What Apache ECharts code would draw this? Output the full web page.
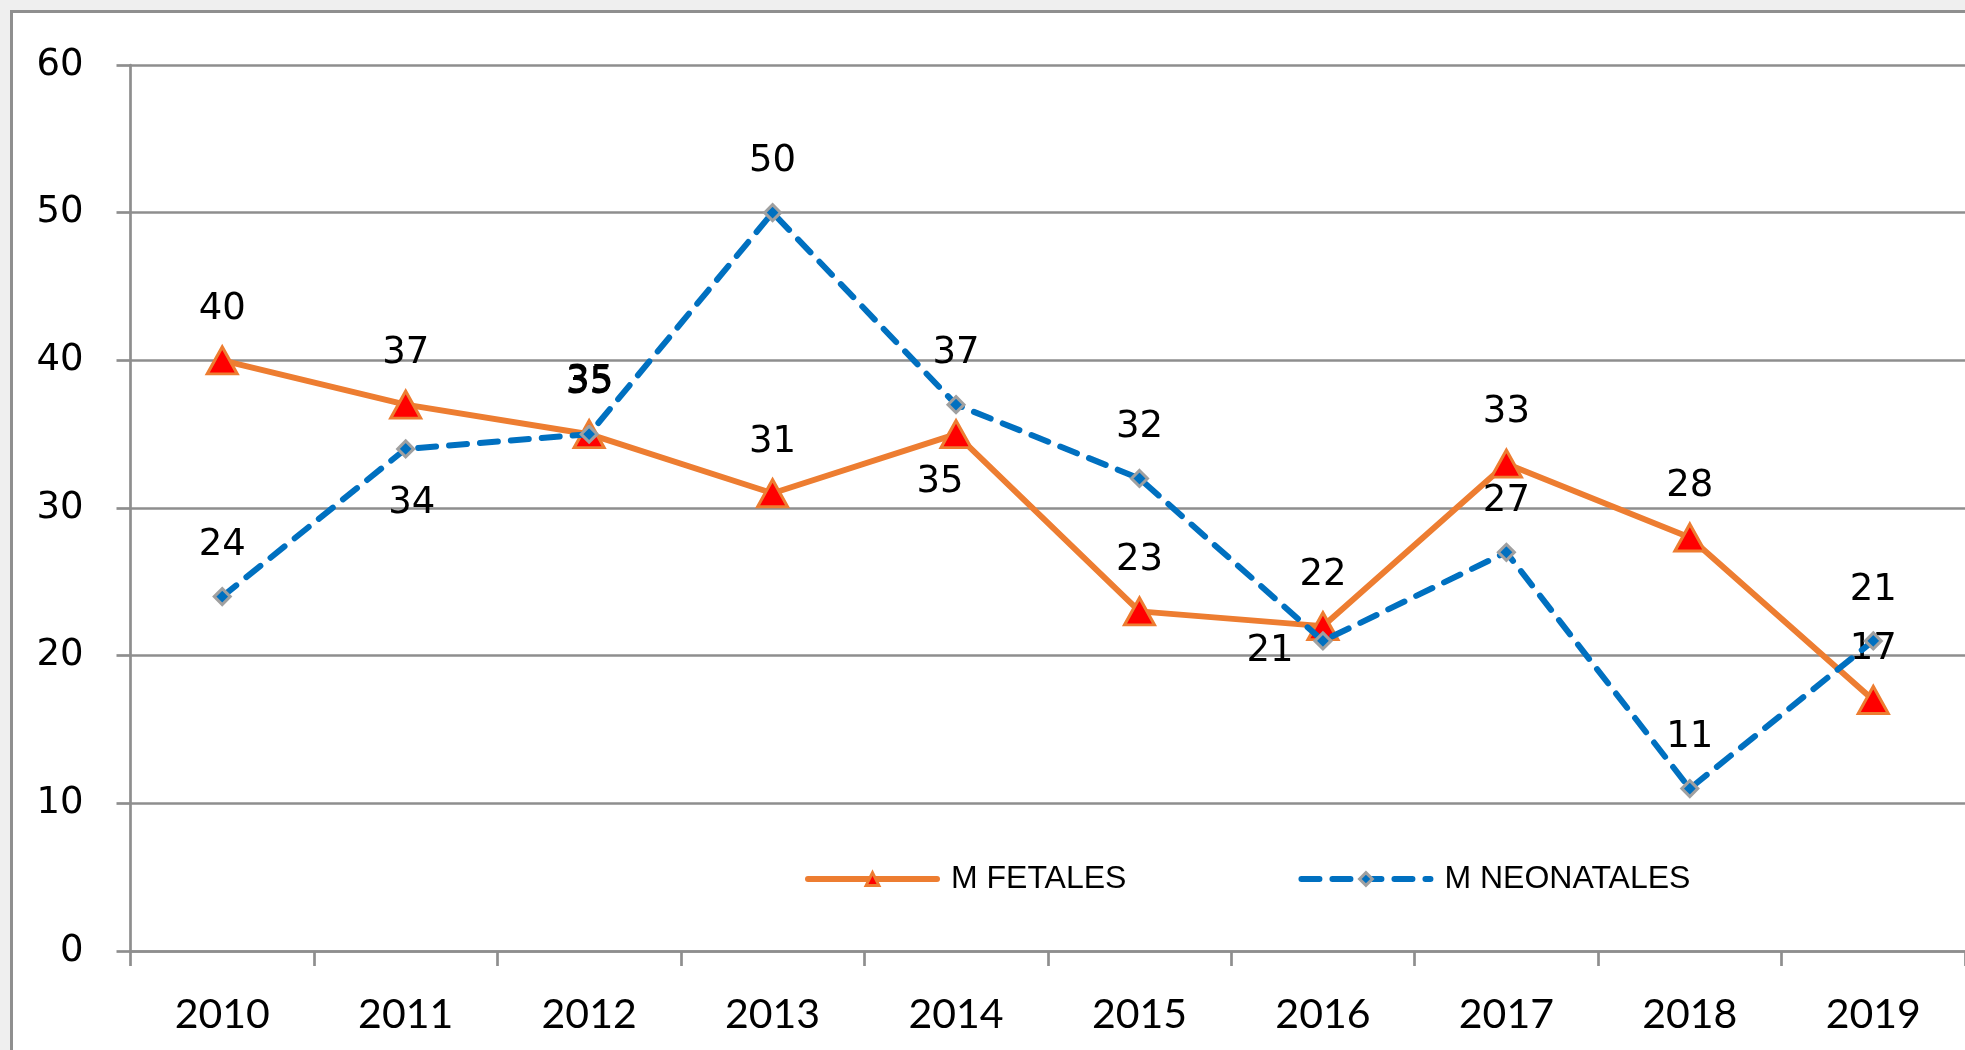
<!DOCTYPE html>
<html>
<head>
<meta charset="utf-8">
<script src="https://cdn.jsdelivr.net/npm/echarts@6/dist/echarts.min.js"></script>
<style>
  html, body { margin: 0; padding: 0; width: 1965px; height: 1050px; overflow: hidden; background: #efefef; }
  #frame { position: absolute; left: 10px; top: 10px; width: 1980px; height: 1060px; background: #ffffff; border: 3px solid #8f8f8f; }
  #chart { position: absolute; left: 0; top: 0; width: 1965px; height: 1050px; }
</style>
</head>
<body>
<div id="frame"></div>
<div id="chart"></div>
<script>
const categories = ['2010', '2011', '2012', '2013', '2014', '2015', '2016', '2017', '2018', '2019'];
const fetales = [40, 37, 35, 31, 35, 23, 22, 33, 28, 17];
const neonatales = [24, 34, 35, 50, 37, 32, 21, 27, 11, 21];
const seriesNames = ['M FETALES', 'M NEONATALES'];
const yTicks = { min: 0, max: 60, interval: 10 };

// label placement overrides (style only)
const defaultOffset = [0, -51];
const fetalOffsets = { 4: [-16, 48] };
const neoOffsets = { 1: [6, 54], 2: [1, -53], 6: [-53, 10] };

function buildData(values, offsets) {
  return values.map((v, i) => {
    const o = offsets[i] || defaultOffset;
    return { value: v, label: { offset: o } };
  });
}

const labelStyle = {
  show: true,
  position: 'inside',
  color: '#000',
  fontFamily: 'DejaVu Sans',
  fontSize: 37
};

const orangeLine = { color: '#ED7D31', width: 6, cap: 'round' };
const blueLine = { color: '#0070C0', width: 6, type: [18, 13], cap: 'round' };
const triStyle = { color: '#FF0000', borderColor: '#ED7D31', borderWidth: 3 };
const diaStyle = { color: '#0070C0', borderColor: '#A0A0A0', borderWidth: 3 };

const chart = echarts.init(document.getElementById('chart'), null, { renderer: 'canvas' });
chart.setOption({
  backgroundColor: 'transparent',
  animation: false,
  grid: { left: 130.5, top: 65, right: -18.5, bottom: 99, containLabel: false },
  legend: {
    data: [
      { name: seriesNames[0], lineStyle: orangeLine, itemStyle: triStyle },
      { name: seriesNames[1], lineStyle: blueLine, itemStyle: diaStyle }
    ],
    left: 800,
    top: 858,
    itemWidth: 129,
    itemHeight: 16,
    itemGap: 172,
    textStyle: { fontFamily: 'Liberation Sans', fontSize: 32, color: '#000', padding: [0, 0, 0, 9] }
  },
  xAxis: {
    type: 'category',
    data: categories,
    boundaryGap: true,
    axisLine: { lineStyle: { color: '#8e8e8e', width: 2.7 } },
    axisTick: { show: true, length: 15, alignWithLabel: false, lineStyle: { color: '#8e8e8e', width: 2.7 } },
    axisLabel: { fontFamily: 'Lato', fontSize: 41, color: '#000', margin: 43 },
    splitLine: { show: false }
  },
  yAxis: {
    type: 'value',
    min: yTicks.min,
    max: yTicks.max,
    interval: yTicks.interval,
    axisLine: { show: true, lineStyle: { color: '#8e8e8e', width: 2.7 } },
    axisTick: { show: true, length: 14, lineStyle: { color: '#8e8e8e', width: 2.7 } },
    axisLabel: { fontFamily: 'DejaVu Sans', fontSize: 37, color: '#000', margin: 47 },
    splitLine: { show: true, lineStyle: { color: '#8e8e8e', width: 2.7 } }
  },
  series: [
    {
      name: seriesNames[0],
      type: 'line',
      data: buildData(fetales, fetalOffsets),
      symbol: 'triangle',
      symbolSize: [30, 27],
      lineStyle: orangeLine,
      itemStyle: triStyle,
      label: labelStyle,
      z: 2
    },
    {
      name: seriesNames[1],
      type: 'line',
      data: buildData(neonatales, neoOffsets),
      symbol: 'diamond',
      symbolSize: 16,
      lineStyle: blueLine,
      itemStyle: diaStyle,
      label: labelStyle,
      z: 3
    }
  ]
});
</script>
</body>
</html>
